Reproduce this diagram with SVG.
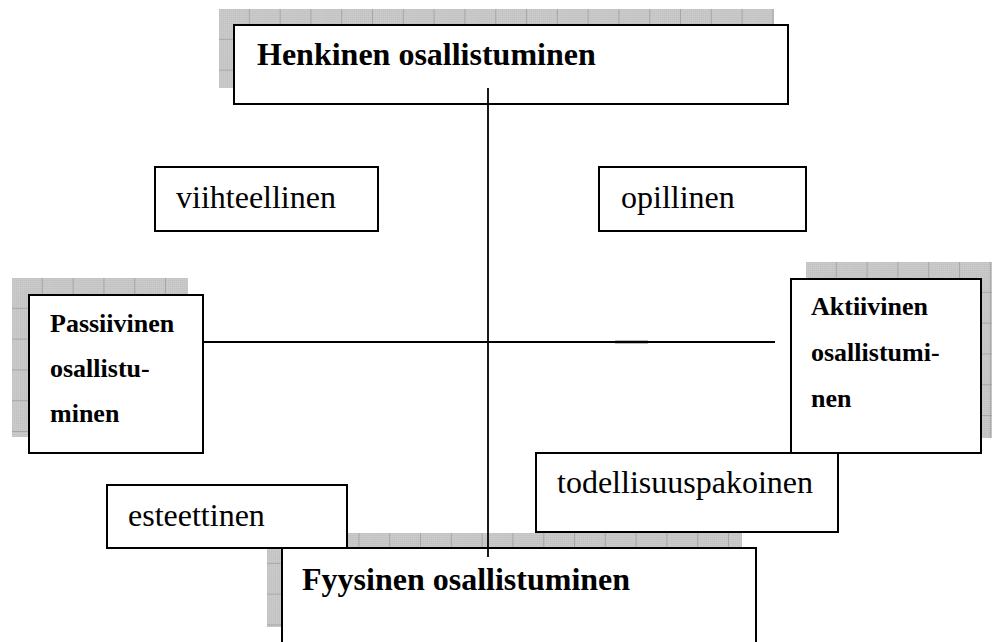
<svg xmlns="http://www.w3.org/2000/svg" width="992" height="642" viewBox="0 0 992 642">
<style>
.box{fill:#fff;stroke:#000;stroke-width:2}
.t{font-family:"Liberation Serif","Times New Roman",serif;font-size:32px;fill:#000}
.b{font-weight:bold}
.s{font-size:26px}
.ln{stroke:#000;stroke-width:1.8;fill:none}
</style>
<defs>
<pattern id="dot" width="2" height="2" patternUnits="userSpaceOnUse">
<rect width="2" height="2" fill="#cbcbcb"/>
<rect width="1" height="1" fill="#bdbdbd"/>
</pattern>
<pattern id="g1" x="219" y="9" width="30.8" height="30.8" patternUnits="userSpaceOnUse">
<rect width="30.8" height="30.8" fill="url(#dot)"/>
<path d="M30.3 0V30.8M0 30.3H30.8" stroke="#a6a6a6" stroke-width="1"/>
</pattern>
<pattern id="g2" x="12" y="278" width="30.8" height="30.8" patternUnits="userSpaceOnUse">
<rect width="30.8" height="30.8" fill="url(#dot)"/>
<path d="M30.3 0V30.8M0 30.3H30.8" stroke="#a6a6a6" stroke-width="1"/>
</pattern>
<pattern id="g3" x="806" y="262" width="30.8" height="30.8" patternUnits="userSpaceOnUse">
<rect width="30.8" height="30.8" fill="url(#dot)"/>
<path d="M30.3 0V30.8M0 30.3H30.8" stroke="#a6a6a6" stroke-width="1"/>
</pattern>
<pattern id="g4" x="267" y="533" width="30.8" height="30.8" patternUnits="userSpaceOnUse">
<rect width="30.8" height="30.8" fill="url(#dot)"/>
<path d="M30.3 0V30.8M0 30.3H30.8" stroke="#a6a6a6" stroke-width="1"/>
</pattern>
</defs>
<rect width="992" height="642" fill="#fff"/>

<g id="henkinen">
<rect x="219" y="9" width="555" height="79" fill="url(#g1)"/>
<rect class="box" x="234" y="25" width="554" height="79"/>
<text class="t b" x="257" y="65">Henkinen osallistuminen</text>
</g>

<g id="passiivinen">
<rect x="12" y="278" width="176" height="159" fill="url(#g2)"/>
<rect class="box" x="29" y="295" width="174" height="158"/>
<text class="t b s" x="50" y="332">Passiivinen</text>
<text class="t b s" x="50" y="377">osallistu-</text>
<text class="t b s" x="50" y="422">minen</text>
</g>

<g id="aktiivinen">
<rect x="806" y="262" width="186" height="176" fill="url(#g3)"/>
<rect class="box" x="791" y="279" width="190" height="174"/>
<text class="t b s" x="811" y="315">Aktiivinen</text>
<text class="t b s" x="811" y="361">osallistumi-</text>
<text class="t b s" x="811" y="407">nen</text>
</g>

<g id="fyysinen">
<rect x="267" y="533" width="475" height="94" fill="url(#g4)"/>
<rect class="box" x="282" y="548" width="474" height="100"/>
<text class="t b" x="302" y="590">Fyysinen osallistuminen</text>
</g>

<g id="esteettinen">
<rect class="box" x="107" y="485" width="240" height="63"/>
<text class="t" x="128" y="526">esteettinen</text>
</g>

<g id="todellisuuspakoinen">
<rect class="box" x="536" y="453" width="302" height="79"/>
<text class="t" x="557" y="493">todellisuuspakoinen</text>
</g>

<g id="viihteellinen">
<rect class="box" x="155" y="167" width="223" height="64"/>
<text class="t" x="176" y="208">viihteellinen</text>
</g>

<g id="opillinen">
<rect class="box" x="599" y="167" width="207" height="64"/>
<text class="t" x="621" y="208">opillinen</text>
</g>

<g id="connectors">
<line class="ln" x1="488" y1="88" x2="488" y2="557"/>
<line class="ln" x1="203" y1="342" x2="775" y2="342"/>
<line x1="615" y1="342" x2="648" y2="342" stroke="#000" stroke-width="2.6"/>
</g>
</svg>
